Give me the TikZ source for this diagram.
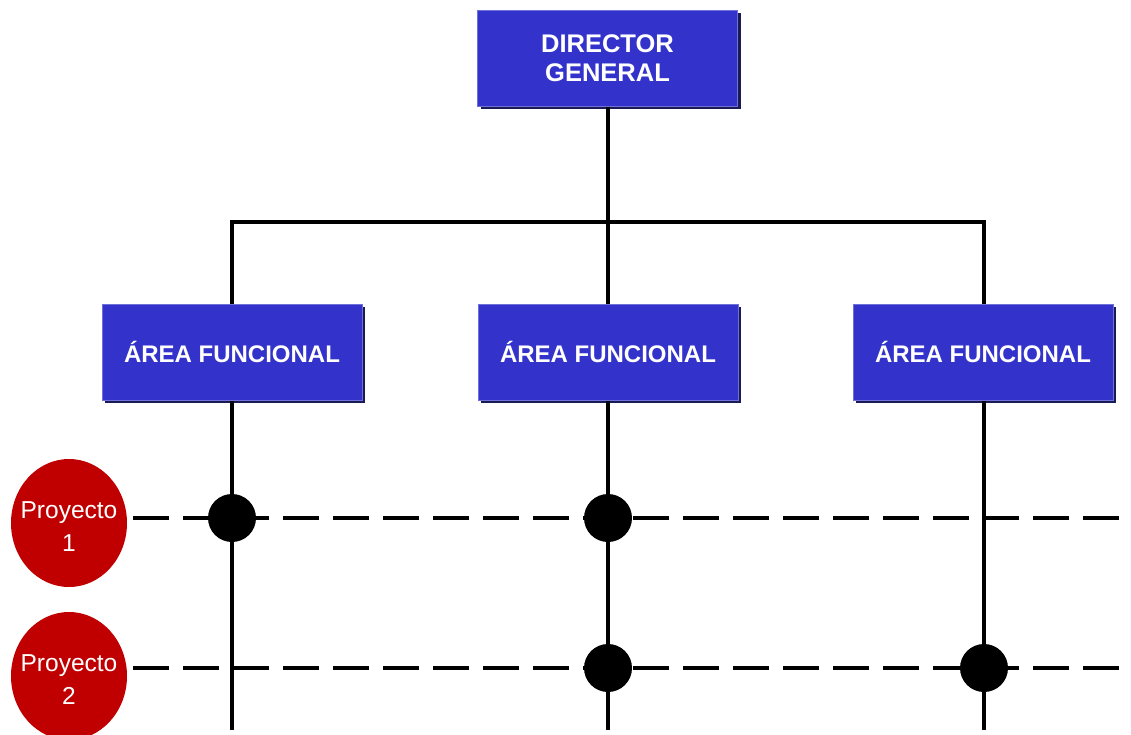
\documentclass[tikz,border=0pt]{standalone}
\usepackage{fontspec}
\setmainfont{Liberation Sans}
\usetikzlibrary{shapes.geometric}
\definecolor{boxblue}{HTML}{3333CC}
\definecolor{boxshadow}{HTML}{1A1A55}
\definecolor{projred}{HTML}{C00000}
\begin{document}
\begin{tikzpicture}[x=1pt,y=-1pt,
  unit/.style={rectangle, fill=boxblue, draw=boxblue!70!white, line width=0.8pt,
    minimum width=260pt, minimum height=96pt, inner sep=0pt,
    text=white, font=\bfseries\fontsize{24}{29}\selectfont, align=center},
  shade box/.style={fill=boxshadow, minimum width=260pt, minimum height=96pt, inner sep=0pt},
  project/.style={ellipse, fill=projred, minimum width=116pt, minimum height=128pt,
    inner sep=0pt},
  project text/.style={text=white, font=\fontsize{24.5}{33}\selectfont, align=center,
    inner sep=0pt, yshift=-4pt},
  link/.style={line width=4pt, black},
  matrixlink/.style={line width=4pt, black, dash pattern=on 36pt off 14pt},
  joint/.style={circle, fill=black, minimum size=48pt, inner sep=0pt}]
\useasboundingbox (0,0) rectangle (1131,734);

% shadows under the boxes
\node[shade box] at (610.5,61) {};
\node[shade box] at (235,355) {};
\node[shade box] at (611,355) {};
\node[shade box] at (986,355) {};

% hierarchy lines
\coordinate (bus) at (608,222);
\coordinate (dirc) at (608,58);
\coordinate (a1c) at (232,352);
\coordinate (a2c) at (608,352);
\coordinate (a3c) at (984,352);
\draw[link] (dirc) -- (a2c);
\draw[link] (a1c) |- (bus) -| (a3c);

% functional verticals
\coordinate (e1) at (232,730);
\coordinate (e2) at (608,730);
\coordinate (e3) at (984,730);
\draw[link] (a1c) -- (e1);
\draw[link] (a2c) -- (e2);
\draw[link] (a3c) -- (e3);

% boxes
\node[unit, font=\bfseries\fontsize{25.5}{29}\selectfont] (dir) at (607.5,58) {DIRECTOR\\GENERAL};
\node[unit] (a1) at (232,352) {ÁREA FUNCIONAL};
\node[unit] (a2) at (608,352) {ÁREA FUNCIONAL};
\node[unit] (a3) at (983,352) {ÁREA FUNCIONAL};

% projects
\node[project, label={[project text, name=t1]center:Proyecto\\1}] (p1) at (69,523) {};
\node[project, label={[project text, name=t2]center:Proyecto\\2}] (p2) at (69,676) {};
\coordinate (s1) at (133,518);
\coordinate (s2) at (133,668);
\coordinate (r1) at (1131,518);
\coordinate (r2) at (1131,668);
\draw[matrixlink] (s1) -- (r1);
\draw[matrixlink] (s2) -- (r2);

% intersections
\node[joint] (j11) at (232,518) {};
\node[joint] (j12) at (608,518) {};
\node[joint] (j22) at (608,668) {};
\node[joint] (j23) at (984,668) {};
\end{tikzpicture}
\end{document}
